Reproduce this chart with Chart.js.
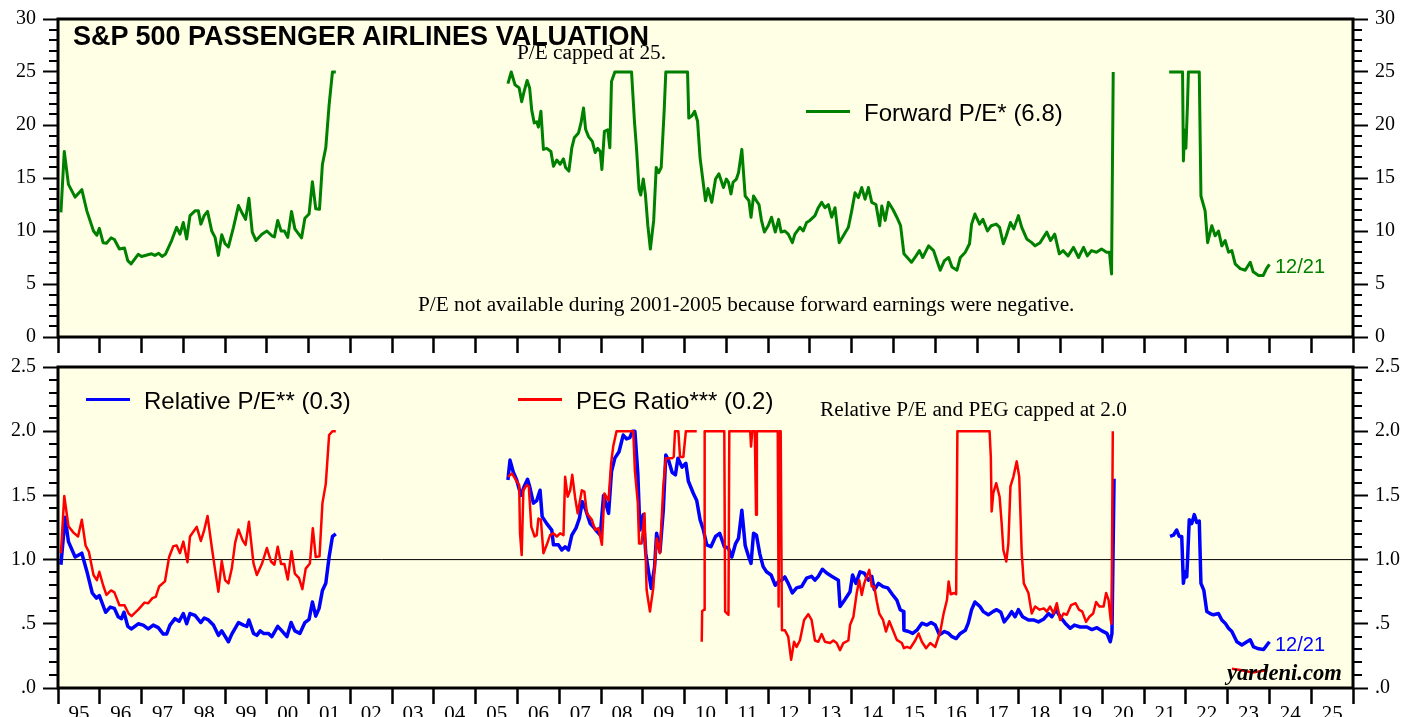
<!DOCTYPE html>
<html><head><meta charset="utf-8">
<script src="https://cdn.jsdelivr.net/npm/chart.js@4.4.1/dist/chart.umd.min.js"></script>
<style>
html,body{margin:0;padding:0;background:#fff;width:1419px;height:717px;overflow:hidden;position:relative}
#c1wrap{position:absolute;left:0;top:0;width:1419px;height:357px}
#c2wrap{position:absolute;left:0;top:340px;width:1419px;height:377px}
.t{position:absolute;white-space:nowrap;line-height:1;color:#000;z-index:5}
.sans{font-family:"Liberation Sans",Arial,sans-serif}
.serif{font-family:"Liberation Serif","Times New Roman",serif}
.sw{position:absolute;height:3px;z-index:5}
</style></head><body>
<div id="c1wrap"><canvas id="c1" width="1419" height="357"></canvas></div>
<div id="c2wrap"><canvas id="c2" width="1419" height="377"></canvas></div>

<div class="t sans" style="left:73px;top:22.5px;font-size:27px;font-weight:bold">S&amp;P 500 PASSENGER AIRLINES VALUATION</div>
<div class="t serif" style="left:517px;top:42px;font-size:21.3px">P/E capped at 25.</div>
<div class="sw" style="left:806px;top:110px;width:44px;background:#008000"></div>
<div class="t sans" style="left:864px;top:100.5px;font-size:24px">Forward P/E* (6.8)</div>
<div class="t sans" style="left:1275px;top:256px;font-size:20px;color:#008000">12/21</div>
<div class="t serif" style="left:418px;top:293.5px;font-size:21.3px">P/E not available during 2001-2005 because forward earnings were negative.</div>

<div class="sw" style="left:86px;top:398px;width:44px;background:#0000ff"></div>
<div class="t sans" style="left:144px;top:388.5px;font-size:24px">Relative P/E** (0.3)</div>
<div class="sw" style="left:518px;top:398px;width:44px;background:#ff0000"></div>
<div class="t sans" style="left:576px;top:388.5px;font-size:24px">PEG Ratio*** (0.2)</div>
<div class="t serif" style="left:820px;top:398.5px;font-size:21.3px">Relative P/E and PEG capped at 2.0</div>
<div class="t sans" style="left:1275px;top:634px;font-size:20px;color:#0000ff">12/21</div>
<div class="t serif" style="left:1227px;top:661.5px;font-size:22.6px;font-weight:bold;font-style:italic">yardeni.com</div>

<script>
// ---------------- DATA ----------------
const yearTicksFrom = 1995, yearTicksTo = 2026;
const topTickLabels = [0,5,10,15,20,25,30];
const bottomTickLabels = ['.0','.5','1.0','1.5','2.0','2.5'];

const forwardPEYears = [
1995.07,1995.15,1995.25,1995.41,1995.57,1995.69,1995.85,1995.93,1995.99,1996.08,1996.16,1996.27,1996.35,1996.47,1996.59,1996.67,1996.75,1996.92,1997.0,1997.24,1997.32,1997.41,1997.49,1997.57,1997.72,1997.84,1997.92,1998.0,1998.08,1998.16,1998.28,1998.36,1998.42,1998.5,1998.58,1998.68,1998.76,1998.84,1998.92,1999.0,1999.08,1999.2,1999.32,1999.42,1999.49,1999.57,1999.65,1999.74,1999.88,2000.0,2000.12,2000.18,2000.26,2000.34,2000.42,2000.5,2000.59,2000.67,2000.83,2000.91,2001.01,2001.09,2001.17,2001.26,2001.33,2001.41,2001.49,2001.57,2001.65,
2003.5,
2005.77,2005.85,2005.94,2006.04,2006.1,2006.16,2006.23,2006.29,2006.34,2006.4,2006.46,2006.5,2006.56,2006.62,2006.7,2006.8,2006.86,2006.94,2007.02,2007.1,2007.15,2007.23,2007.3,2007.36,2007.46,2007.52,2007.58,2007.63,2007.7,2007.79,2007.86,2007.92,2007.98,2008.02,2008.08,2008.16,2008.21,2008.25,2008.33,2008.73,2008.8,2008.85,2008.91,2008.95,2009.01,2009.06,2009.12,2009.18,2009.26,2009.32,2009.38,2009.44,2009.51,2009.55,2010.07,2010.1,2010.18,2010.24,2010.31,2010.37,2010.45,2010.5,2010.56,2010.65,2010.74,2010.82,2010.93,2011.0,2011.05,2011.11,2011.16,2011.24,2011.29,2011.37,2011.45,2011.54,2011.59,2011.65,2011.72,2011.78,2011.84,2011.91,2012.0,2012.08,2012.17,2012.25,2012.31,2012.4,2012.48,2012.58,2012.64,2012.76,2012.84,2012.92,2013.0,2013.12,2013.2,2013.28,2013.36,2013.44,2013.52,2013.6,2013.7,2013.8,2013.92,2014.0,2014.08,2014.16,2014.24,2014.32,2014.4,2014.48,2014.58,2014.67,2014.72,2014.8,2014.88,2014.99,2015.08,2015.17,2015.25,2015.33,2015.43,2015.54,2015.62,2015.7,2015.84,2015.96,2016.04,2016.12,2016.22,2016.32,2016.4,2016.52,2016.6,2016.72,2016.82,2016.87,2016.95,2017.06,2017.14,2017.25,2017.34,2017.46,2017.54,2017.63,2017.7,2017.8,2017.88,2017.99,2018.07,2018.19,2018.31,2018.39,2018.51,2018.67,2018.76,2018.86,2018.97,2019.06,2019.18,2019.31,2019.43,2019.55,2019.64,2019.74,2019.86,2019.98,2020.1,2020.17,2020.22,2020.26,
2020.9,
2021.6,2021.92,2021.94,2021.97,2022.0,2022.04,2022.06,2022.32,2022.36,2022.46,2022.52,2022.62,2022.7,2022.78,2022.86,2022.94,2023.02,2023.1,2023.18,2023.3,2023.42,2023.54,2023.61,2023.74,2023.85,2023.93,2024.0];
const forwardPE = [
11.75,17.5,14.4,13.2,13.9,11.9,10.0,9.6,10.25,8.9,8.85,9.35,9.2,8.3,8.4,7.2,6.9,7.8,7.6,7.85,7.7,7.9,7.6,7.8,9.1,10.35,9.7,10.8,9.25,11.45,11.9,11.9,10.65,11.45,11.85,10.0,9.4,7.7,9.65,8.8,8.5,10.35,12.4,11.6,11.1,13.1,9.9,9.1,9.7,10.0,9.55,9.45,11.0,10.0,10.0,9.4,11.85,10.2,9.35,11.2,11.6,14.65,12.1,12.05,16.3,17.85,21.9,25,25,
null,
23.9,25,23.8,23.5,22.2,23.2,24.2,23.5,21.4,20.2,20.3,19.8,21.3,17.7,17.8,17.5,16.1,16.7,16.3,16.8,16.0,15.65,17.85,18.8,19.25,20.2,21.6,19.6,18.9,18.45,17.4,17.8,17.5,15.8,19.4,19.55,17.85,24.1,25,25,20.3,17.7,13.9,13.4,14.9,13.5,10.5,8.3,11.0,16.0,15.5,16.0,21.3,25,25,20.65,20.9,21.3,20.35,16.9,14.4,12.85,14.0,12.7,14.9,15.4,14.1,14.9,14.6,13.5,14.6,14.9,15.5,17.7,13.3,12.85,11.3,13.3,12.85,12.5,11.0,9.9,10.5,11.3,9.9,11.1,9.9,10.0,9.7,8.9,9.7,10.35,10.0,10.8,11.0,11.45,12.2,12.7,12.2,12.5,11.3,12.2,8.9,9.55,10.35,11.9,13.6,13.15,14.1,13.0,14.1,12.7,12.5,10.5,12.35,11.0,12.7,12.0,11.3,10.5,7.85,7.5,7.05,7.65,8.15,7.5,8.6,8.15,7.2,6.3,7.2,7.5,6.6,6.3,7.5,8.0,8.8,10.65,11.6,10.65,11.1,10.0,10.5,10.65,10.35,8.8,9.55,10.8,10.2,11.45,10.35,9.25,8.9,8.6,8.9,9.9,9.1,9.7,7.85,8.15,7.65,8.45,7.5,8.45,7.65,8.15,8.0,8.3,8.0,8.0,5.95,25,
null,
25,25,16.6,19.5,17.8,22.2,25,25,13.3,11.9,8.9,10.5,9.55,10.0,8.6,9.1,8.0,8.15,6.9,6.45,6.3,7.05,6.15,5.8,5.8,6.45,6.85];

const relPEYears = [
1995.07,1995.17,1995.25,1995.41,1995.57,1995.69,1995.82,1995.92,1995.99,1996.14,1996.25,1996.35,1996.44,1996.52,1996.58,1996.67,1996.76,1996.92,1997.04,1997.16,1997.28,1997.4,1997.52,1997.6,1997.68,1997.8,1997.9,1998.0,1998.08,1998.16,1998.28,1998.42,1998.5,1998.6,1998.72,1998.84,1998.92,1999.08,1999.16,1999.32,1999.44,1999.52,1999.57,1999.68,1999.76,1999.84,1999.92,2000.04,2000.12,2000.26,2000.36,2000.48,2000.58,2000.67,2000.79,2000.91,2001.01,2001.09,2001.17,2001.25,2001.33,2001.41,2001.49,2001.57,2001.65,
2003.5,
2005.77,2005.82,2005.9,2005.98,2006.08,2006.16,2006.24,2006.29,2006.38,2006.46,2006.54,2006.59,2006.7,2006.82,2006.86,2006.98,2007.06,2007.14,2007.22,2007.3,2007.4,2007.48,2007.55,2007.63,2007.74,2007.84,2007.9,2007.98,2008.06,2008.18,2008.25,2008.33,2008.43,2008.53,2008.61,2008.69,2008.75,2008.81,2008.88,2008.93,2009.01,2009.07,2009.13,2009.2,2009.28,2009.33,2009.41,2009.49,2009.55,2009.62,2009.7,2009.78,2009.84,2009.94,2010.03,2010.09,2010.21,2010.29,2010.37,2010.45,2010.53,2010.63,2010.74,2010.84,2010.95,2011.05,2011.13,2011.22,2011.29,2011.37,2011.45,2011.52,2011.59,2011.65,2011.72,2011.8,2011.88,2011.96,2012.07,2012.17,2012.25,2012.33,2012.4,2012.48,2012.58,2012.68,2012.8,2012.92,2013.04,2013.12,2013.2,2013.3,2013.4,2013.52,2013.6,2013.68,2013.72,2013.84,2013.96,2014.02,2014.1,2014.2,2014.3,2014.4,2014.48,2014.54,2014.64,2014.75,2014.86,2014.97,2015.08,2015.16,2015.24,2015.25,2015.36,2015.46,2015.56,2015.68,2015.8,2015.9,2016.0,2016.1,2016.22,2016.32,2016.4,2016.5,2016.6,2016.72,2016.79,2016.87,2016.95,2017.07,2017.15,2017.27,2017.38,2017.47,2017.57,2017.65,2017.75,2017.83,2017.91,2017.99,2018.09,2018.23,2018.35,2018.47,2018.59,2018.71,2018.79,2018.89,2018.99,2019.11,2019.23,2019.33,2019.47,2019.63,2019.75,2019.87,2019.99,2020.11,2020.19,2020.23,2020.28,
2020.9,
2021.62,2021.7,2021.78,2021.84,2021.9,2021.94,2021.98,2022.02,2022.04,2022.08,2022.14,2022.2,2022.26,2022.32,2022.36,2022.43,2022.5,2022.58,2022.66,2022.78,2022.86,2022.94,2023.02,2023.1,2023.22,2023.34,2023.46,2023.54,2023.62,2023.74,2023.86,2023.94,2024.0];
const relPE = [
0.96,1.33,1.14,1.02,1.05,0.91,0.74,0.70,0.72,0.59,0.63,0.62,0.555,0.54,0.59,0.48,0.46,0.50,0.49,0.46,0.49,0.47,0.42,0.42,0.49,0.54,0.52,0.58,0.50,0.58,0.565,0.51,0.545,0.53,0.49,0.41,0.445,0.36,0.42,0.51,0.49,0.48,0.53,0.425,0.41,0.445,0.425,0.425,0.40,0.48,0.445,0.40,0.51,0.445,0.425,0.51,0.535,0.67,0.56,0.62,0.76,0.815,1.02,1.18,1.20,
null,
1.62,1.775,1.68,1.62,1.50,1.57,1.625,1.57,1.44,1.46,1.54,1.335,1.28,1.23,1.115,1.115,1.075,1.10,1.075,1.19,1.245,1.32,1.45,1.39,1.28,1.245,1.22,1.19,1.50,1.36,1.685,1.79,1.84,1.97,1.94,1.95,2.0,2.0,1.67,1.23,1.35,1.05,0.92,0.775,0.94,1.205,1.06,1.385,1.815,1.77,1.68,1.66,1.79,1.72,1.75,1.61,1.515,1.46,1.31,1.23,1.115,1.10,1.18,1.205,1.10,1.09,1.02,1.125,1.165,1.385,1.11,1.035,0.97,1.205,1.19,1.045,0.945,0.905,0.88,0.80,0.83,0.84,0.865,0.815,0.74,0.78,0.79,0.855,0.87,0.84,0.87,0.925,0.895,0.87,0.855,0.84,0.635,0.69,0.75,0.88,0.815,0.905,0.895,0.84,0.87,0.765,0.815,0.79,0.78,0.73,0.685,0.61,0.595,0.45,0.44,0.425,0.45,0.505,0.49,0.51,0.49,0.415,0.44,0.425,0.40,0.385,0.425,0.45,0.505,0.61,0.67,0.635,0.595,0.57,0.595,0.61,0.59,0.515,0.555,0.595,0.555,0.61,0.555,0.53,0.53,0.515,0.535,0.58,0.555,0.61,0.555,0.505,0.465,0.49,0.475,0.475,0.455,0.47,0.445,0.425,0.36,0.425,1.63,
null,
1.18,1.19,1.23,1.18,1.18,0.815,0.905,0.865,1.0,1.31,1.28,1.35,1.29,1.30,0.815,0.76,0.595,0.58,0.57,0.58,0.53,0.505,0.465,0.44,0.36,0.335,0.36,0.375,0.32,0.305,0.30,0.335,0.36];

const pegYears = [
1995.07,1995.15,1995.25,1995.37,1995.48,1995.57,1995.66,1995.74,1995.85,1995.93,1995.99,1996.08,1996.16,1996.27,1996.35,1996.47,1996.59,1996.69,1996.76,1996.92,1997.07,1997.16,1997.26,1997.34,1997.42,1997.56,1997.66,1997.76,1997.84,1997.92,1998.0,1998.1,1998.16,1998.32,1998.42,1998.5,1998.58,1998.68,1998.76,1998.84,1998.92,1999.0,1999.08,1999.16,1999.24,1999.32,1999.42,1999.49,1999.57,1999.68,1999.76,1999.88,2000.0,2000.1,2000.18,2000.26,2000.34,2000.42,2000.5,2000.59,2000.67,2000.77,2000.85,2000.93,2001.03,2001.1,2001.17,2001.26,2001.33,2001.41,2001.49,2001.57,2001.65,
2003.5,
2005.77,2005.87,2005.96,2006.04,2006.06,2006.1,2006.14,2006.22,2006.27,2006.33,2006.41,2006.46,2006.5,2006.56,2006.62,2006.7,2006.78,2006.86,2006.94,2007.02,2007.1,2007.14,2007.2,2007.26,2007.31,2007.38,2007.44,2007.54,2007.6,2007.66,2007.78,2007.86,2007.94,2008.02,2008.08,2008.18,2008.24,2008.29,2008.37,2008.77,2008.81,2008.88,2008.91,2008.97,2009.04,2009.09,2009.17,2009.25,2009.33,2009.41,2009.49,2009.55,2009.7,2009.74,2009.77,2009.85,2009.89,2009.97,2010.03,2010.29,
2010.35,
2010.41,2010.42,2010.47,2010.48,2010.95,2010.97,2011.05,2011.07,2011.57,2011.59,2011.62,2011.68,2011.71,2011.73,2012.23,2012.25,2012.27,2012.3,2012.33,2012.4,2012.48,2012.55,2012.62,2012.68,2012.76,2012.86,2012.96,2013.04,2013.12,2013.2,2013.28,2013.36,2013.48,2013.56,2013.64,2013.72,2013.8,2013.92,2013.96,2014.04,2014.12,2014.18,2014.24,2014.3,2014.36,2014.42,2014.48,2014.54,2014.6,2014.66,2014.75,2014.82,2014.9,2014.98,2015.08,2015.2,2015.25,2015.32,2015.4,2015.52,2015.6,2015.68,2015.78,2015.88,2016.0,2016.12,2016.2,2016.28,2016.32,2016.37,2016.45,2016.5,2016.53,2017.3,2017.33,2017.35,2017.39,2017.46,2017.54,2017.59,2017.63,2017.7,2017.75,2017.8,2017.87,2017.95,2018.01,2018.07,2018.12,2018.23,2018.31,2018.39,2018.5,2018.6,2018.67,2018.75,2018.83,2018.91,2018.99,2019.07,2019.15,2019.25,2019.36,2019.44,2019.52,2019.61,2019.69,2019.78,2019.85,2019.93,2020.03,2020.09,2020.15,2020.2,2020.22,2020.25,
2021.0,
2023.1,2023.3,2023.6,2023.95];
const peg = [
1.05,1.495,1.26,1.21,1.18,1.31,1.11,1.06,0.88,0.84,0.905,0.80,0.725,0.76,0.745,0.645,0.645,0.58,0.56,0.61,0.665,0.66,0.70,0.71,0.79,0.83,1.02,1.105,1.11,1.05,1.14,0.98,1.18,1.255,1.145,1.23,1.34,1.10,0.92,0.75,0.99,0.84,0.815,0.93,1.13,1.235,1.15,1.115,1.295,0.97,0.88,0.965,1.09,0.985,0.96,1.10,0.965,0.965,0.845,1.065,0.89,0.855,0.77,0.93,0.97,1.245,1.02,1.025,1.44,1.59,1.97,2.0,2.0,
null,
1.645,1.67,1.62,1.58,1.205,1.035,1.54,1.58,1.57,1.255,1.18,1.19,1.32,1.31,1.05,1.115,1.19,1.205,1.18,1.205,1.19,1.645,1.49,1.54,1.66,1.48,1.36,1.54,1.53,1.36,1.31,1.23,1.245,1.115,1.515,1.46,1.75,1.88,2.0,2.0,1.69,1.44,1.125,1.125,1.36,0.765,0.595,0.78,1.165,1.05,1.57,1.79,1.79,1.80,2.0,2.0,1.80,1.80,2.0,2.0,
null,
0.36,0.60,0.61,2.0,2.0,0.595,0.57,2.0,2.0,1.88,2.0,2.0,1.35,2.0,2.0,0.635,2.0,2.0,0.45,0.45,0.40,0.22,0.36,0.32,0.37,0.53,0.575,0.53,0.37,0.36,0.42,0.36,0.35,0.37,0.35,0.295,0.35,0.37,0.49,0.555,0.74,0.84,0.725,0.815,0.87,0.92,0.79,0.79,0.675,0.58,0.53,0.44,0.52,0.455,0.375,0.35,0.31,0.32,0.31,0.37,0.425,0.36,0.31,0.35,0.32,0.44,0.58,0.685,0.83,0.73,0.74,0.73,2.0,2.0,1.80,1.375,1.52,1.595,1.49,1.28,1.075,0.985,1.125,1.57,1.645,1.765,1.645,1.05,0.815,0.74,0.58,0.635,0.61,0.62,0.595,0.635,0.58,0.66,0.53,0.58,0.57,0.645,0.66,0.61,0.595,0.515,0.555,0.58,0.67,0.635,0.635,0.74,0.685,0.53,0.50,2.0,
null,
0.15,0.14,0.12,0.14];

const referenceLevel = 1.0;

// ---------------- helpers ----------------
const pts = (xs, ys) => xs.map((x, i) => ({x: x, y: ys[i]}));
const INK = '#000';
const SERIF = '"Liberation Serif","Times New Roman",serif';

const framePlugin = {
  id: 'frame',
  beforeDraw(chart) {
    const a = chart.chartArea, c = chart.ctx;
    c.save(); c.fillStyle = '#FFFFE6'; c.fillRect(a.left, a.top, a.right - a.left, a.bottom - a.top); c.restore();
  },
  afterDraw(chart) {
    const a = chart.chartArea, c = chart.ctx;
    const o = chart.options.plugins.frame;
    c.save();
    c.strokeStyle = INK; c.lineWidth = 2;
    const yl = chart.scales.y;
    for (let k = 0; k <= o.count; k++) {
      if (k % o.every === 0) continue;
      const py = Math.round(yl.getPixelForValue(k * o.step));
      c.beginPath();
      c.moveTo(a.left - 9, py); c.lineTo(a.left, py);
      c.moveTo(a.right, py); c.lineTo(a.right + 9, py);
      c.stroke();
    }
    c.lineWidth = 3;
    c.strokeRect(a.left, a.top, a.right - a.left, a.bottom - a.top);
    c.restore();
  }
};

function yAxis(pos, min, max, step, fmt, width) {
  return {
    type: 'linear', position: pos, min: min, max: max,
    border: {display: false},
    grid: {drawOnChartArea: false, drawTicks: true, tickLength: 15, tickWidth: 2, tickColor: INK},
    ticks: {stepSize: step, color: INK, padding: 7, font: {family: SERIF, size: 20}, callback: fmt},
    afterFit(s) { s.width = width; }
  };
}
function xAxis(showLabels, height) {
  return {
    type: 'linear', min: yearTicksFrom, max: yearTicksTo,
    border: {display: false},
    grid: {drawOnChartArea: false, drawTicks: true, tickLength: 16, tickWidth: 2.5, tickColor: INK},
    ticks: {stepSize: 1, autoSkip: false, maxRotation: 0, color: INK, padding: -2,
      labelOffset: 20.9, font: {family: SERIF, size: 21},
      callback: v => (showLabels && v < yearTicksTo) ? String(v % 100).padStart(2, '0') : ''},
    afterFit(s) { s.height = height; }
  };
}

const topFmt = v => topTickLabels.includes(v) ? String(v) : '';
const botFmt = v => bottomTickLabels[Math.round(v / 0.5)] || '';

new Chart(document.getElementById('c1'), {
  type: 'line',
  data: {datasets: [{
    data: pts(forwardPEYears, forwardPE), borderColor: '#008000', borderWidth: 3,
    pointRadius: 0, tension: 0, spanGaps: false, borderJoinStyle: 'round'
  }]},
  options: {
    responsive: false, animation: false, events: [],
    layout: {padding: {top: 16, left: 0, right: 0, bottom: 0}},
    plugins: {legend: {display: false}, tooltip: {enabled: false}, frame: {step: 1, count: 30, every: 5}},
    scales: {
      x: xAxis(false, 20),
      y: yAxis('left', 0, 30, 5, topFmt, 58),
      y2: yAxis('right', 0, 30, 5, topFmt, 66)
    }
  },
  plugins: [framePlugin]
});

new Chart(document.getElementById('c2'), {
  type: 'line',
  data: {datasets: [
    {data: [{x: yearTicksFrom, y: referenceLevel}, {x: yearTicksTo, y: referenceLevel}], borderColor: '#000', borderWidth: 1, pointRadius: 0, order: 3},
    {data: pts(relPEYears, relPE), borderColor: '#0000ff', borderWidth: 3.5, pointRadius: 0, tension: 0, spanGaps: false, order: 2, borderJoinStyle: 'round'},
    {data: pts(pegYears, peg), borderColor: '#ff0000', borderWidth: 2.5, pointRadius: 0, tension: 0, spanGaps: false, order: 1, borderJoinStyle: 'round'}
  ]},
  options: {
    responsive: false, animation: false, events: [],
    layout: {padding: {top: 27, left: 0, right: 0, bottom: 0}},
    plugins: {legend: {display: false}, tooltip: {enabled: false}, frame: {step: 0.1, count: 25, every: 5}},
    scales: {
      x: xAxis(true, 29),
      y: yAxis('left', 0, 2.5, 0.5, botFmt, 58),
      y2: yAxis('right', 0, 2.5, 0.5, botFmt, 66)
    }
  },
  plugins: [framePlugin]
});
</script>
</body></html>
